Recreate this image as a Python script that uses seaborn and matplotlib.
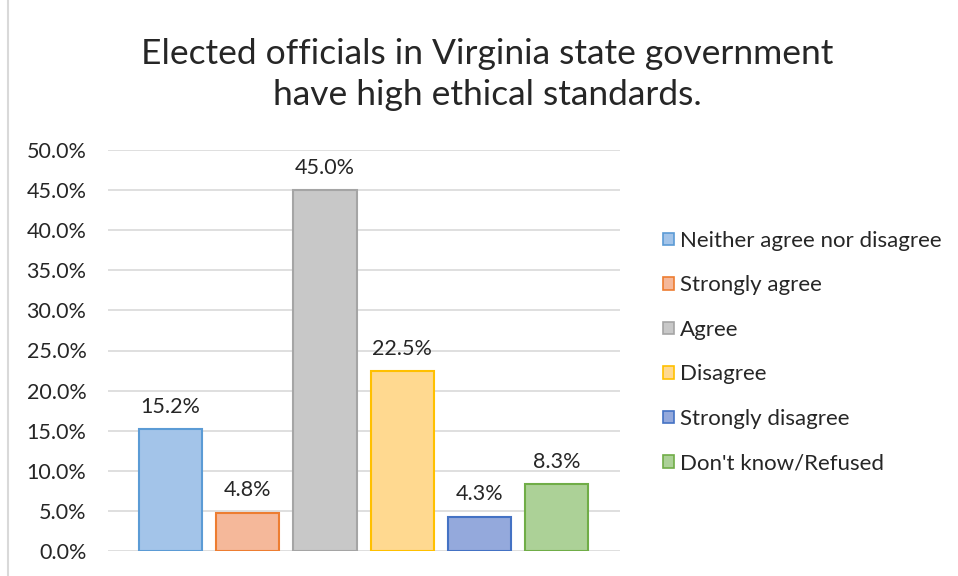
import matplotlib
matplotlib.use("Agg")
import matplotlib.pyplot as plt
import seaborn as sns
from matplotlib.lines import Line2D
from matplotlib.patches import Patch

categories = ["Neither agree nor disagree", "Strongly agree", "Agree",
              "Disagree", "Strongly disagree", "Don't know/Refused"]
values = [15.2, 4.8, 45.0, 22.5, 4.3, 8.3]
labels = ["15.2%", "4.8%", "45.0%", "22.5%", "4.3%", "8.3%"]
y_ticks = [0, 5, 10, 15, 20, 25, 30, 35, 40, 45, 50]

fills = ["#a3c4e9", "#f5b89a", "#c8c8c8", "#ffd990", "#94a9dc", "#acd197"]
edges = ["#5b9bd5", "#ed7d31", "#a5a5a5", "#ffc000", "#4472c4", "#70ad47"]

sns.set_style("white")
plt.rcParams["font.family"] = ["Lato", "DejaVu Sans"]

fig = plt.figure(figsize=(9.58, 5.76), dpi=100)
ax = fig.add_axes([108 / 958, 25 / 576, 512 / 958, 401 / 576])

sns.barplot(x=categories, y=values, hue=categories, palette=fills,
            order=categories, hue_order=categories, width=0.816,
            legend=False, ax=ax, saturation=1)
for patch, ec in zip(ax.patches, edges):
    patch.set_edgecolor(ec)
    patch.set_linewidth(1.5)
    patch.set_zorder(3)

# data labels above bars
for i, (v, lab) in enumerate(zip(values, labels)):
    ax.text(i, v + 1.5, lab, ha="center", va="bottom", fontsize=15.5, color="#262626")

ax.set_xlim(-0.81, 5.82)
ax.set_ylim(0, 50)
ax.set_yticks(y_ticks)
ax.set_yticklabels([f"{t:.1f}%" for t in y_ticks], fontsize=15.5, color="#262626")
ax.set_xticks([])
ax.set_xlabel("")
ax.set_ylabel("")
ax.tick_params(axis="y", length=0, pad=15.5)
ax.yaxis.grid(True, color="#d9d9d9", linewidth=1.2, zorder=0)
ax.set_axisbelow(True)
for s in ax.spines.values():
    s.set_visible(False)

handles = [Patch(facecolor=f, edgecolor=e, linewidth=1.2) for f, e in zip(fills, edges)]
fig.legend(handles, categories, loc="upper left", bbox_to_anchor=(643 / 958, 1 - 211 / 576),
           frameon=False, fontsize=16, labelspacing=1.1, handlelength=0.5,
           handleheight=0.5, handletextpad=0.25, labelcolor="#262626")

fig.text(487 / 958, 1 - 74.5 / 576,
         "Elected officials in Virginia state government\nhave high ethical standards.",
         ha="center", va="center", fontsize=25.5, color="#262626", linespacing=1.32)

# chart area border on the left
fig.add_artist(Line2D([8 / 958, 8 / 958], [0, 1], color="#d9d9d9", linewidth=1.5))

fig.savefig("out.png", dpi=100, facecolor="white")
